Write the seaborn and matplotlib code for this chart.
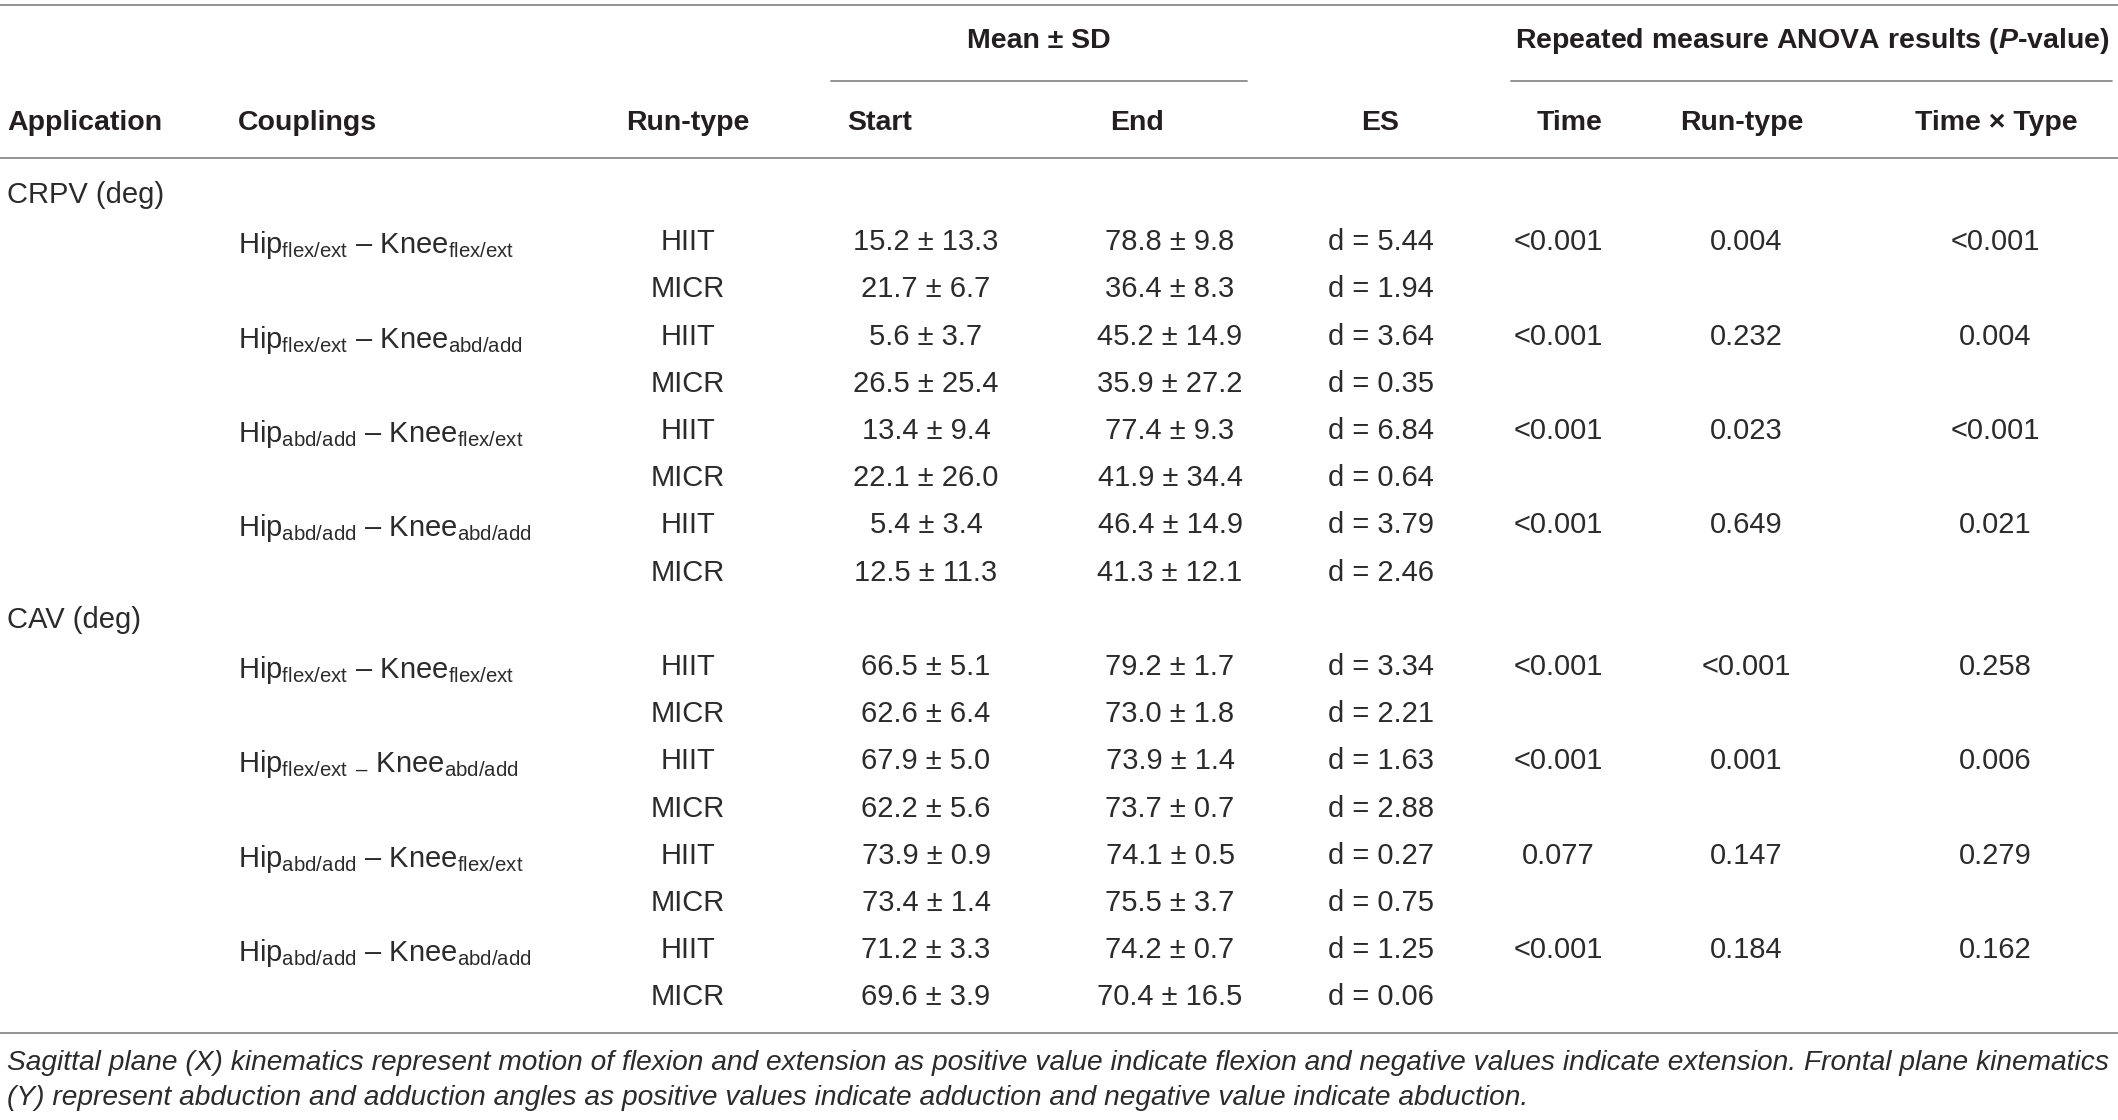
import matplotlib
matplotlib.use('Agg')
import matplotlib.pyplot as plt
import seaborn as sns

# Table content
applications = ['CRPV (deg)', 'CAV (deg)']
couplings = {
    'CRPV (deg)': [r'Hip$_\mathregular{flex/ext}$ – Knee$_\mathregular{flex/ext}$',
                   r'Hip$_\mathregular{flex/ext}$ – Knee$_\mathregular{abd/add}$',
                   r'Hip$_\mathregular{abd/add}$ – Knee$_\mathregular{flex/ext}$',
                   r'Hip$_\mathregular{abd/add}$ – Knee$_\mathregular{abd/add}$'],
    'CAV (deg)': [r'Hip$_\mathregular{flex/ext}$ – Knee$_\mathregular{flex/ext}$',
                  r'Hip$_\mathregular{flex/ext}$ $_\mathregular{–}$ Knee$_\mathregular{abd/add}$',
                  r'Hip$_\mathregular{abd/add}$ – Knee$_\mathregular{flex/ext}$',
                  r'Hip$_\mathregular{abd/add}$ – Knee$_\mathregular{abd/add}$'],
}
run_types = ['HIIT', 'MICR']

# one entry per row (HIIT, MICR for each coupling), CRPV first then CAV
start_mean = [15.2, 21.7, 5.6, 26.5, 13.4, 22.1, 5.4, 12.5,
              66.5, 62.6, 67.9, 62.2, 73.9, 73.4, 71.2, 69.6]
start_sd = [13.3, 6.7, 3.7, 25.4, 9.4, 26.0, 3.4, 11.3,
            5.1, 6.4, 5.0, 5.6, 0.9, 1.4, 3.3, 3.9]
end_mean = [78.8, 36.4, 45.2, 35.9, 77.4, 41.9, 46.4, 41.3,
            79.2, 73.0, 73.9, 73.7, 74.1, 75.5, 74.2, 70.4]
end_sd = [9.8, 8.3, 14.9, 27.2, 9.3, 34.4, 14.9, 12.1,
          1.7, 1.8, 1.4, 0.7, 0.5, 3.7, 0.7, 16.5]
effect_size = [5.44, 1.94, 3.64, 0.35, 6.84, 0.64, 3.79, 2.46,
               3.34, 2.21, 1.63, 2.88, 0.27, 0.75, 1.25, 0.06]

# p-values, one per coupling
p_time = ['<0.001', '<0.001', '<0.001', '<0.001', '<0.001', '<0.001', '0.077', '<0.001']
p_runtype = ['0.004', '0.232', '0.023', '0.649', '<0.001', '0.001', '0.147', '0.184']
p_interaction = ['<0.001', '0.004', '<0.001', '0.021', '0.258', '0.006', '0.279', '0.162']

footnote = ['Sagittal plane (X) kinematics represent motion of flexion and extension as positive value '
            'indicate flexion and negative values indicate extension. Frontal plane kinematics',
            '(Y) represent abduction and adduction angles as positive values indicate adduction and '
            'negative value indicate abduction.']

sns.set_theme(style='white')
plt.rcParams['font.family'] = ['Liberation Sans', 'DejaVu Sans']
plt.rcParams['mathtext.fontset'] = 'custom'
plt.rcParams['mathtext.rm'] = 'Liberation Sans'
plt.rcParams['mathtext.it'] = 'Liberation Sans:italic:bold'
plt.rcParams['mathtext.bf'] = 'Liberation Sans:bold'

W, H = 2118, 1120
fig = plt.figure(figsize=(W / 100, H / 100), dpi=100)
ax = fig.add_axes([0, 0, 1, 1])
ax.set_xlim(0, W)
ax.set_ylim(H, 0)
ax.axis('off')

txt = '#231f20'
body_col = '#2b2b2b'
line_col = '#8a8a8a'
body = 21
head = 20.5

# rules
for y in [5, 158, 1033]:
    ax.plot([0, W], [y, y], color=line_col, lw=1.3)
ax.plot([831, 1247], [81, 81], color=line_col, lw=1.3)
ax.plot([1511, 2112], [81, 81], color=line_col, lw=1.3)

# header
hk = dict(fontsize=head, fontweight='bold', color=txt, va='center')
ax.text(1039, 41, 'Mean ± SD', ha='center', **hk)
ax.text(1812, 41, r'Repeated measure ANOVA results ($\mathit{P}$-value)', ha='center', **hk)
ax.text(7, 123, 'Application', ha='left', **hk)
ax.text(238, 123, 'Couplings', ha='left', **hk)
ax.text(688, 123, 'Run-type', ha='center', **hk)
ax.text(847, 123, 'Start', ha='left', **hk)
ax.text(1137, 123, 'End', ha='center', **hk)
ax.text(1380, 123, 'ES', ha='center', **hk)
ax.text(1570, 123, 'Time', ha='center', **hk)
ax.text(1742, 123, 'Run-type', ha='center', **hk)
ax.text(1996, 123, 'Time × Type', ha='center', **hk)

# body
bk = dict(fontsize=body, color=body_col, va='center')
y0, dy = 195, 47.2
line = 0
row = 0
for a, app in enumerate(applications):
    ax.text(7, y0 + line * dy, app, ha='left', **bk)
    line += 1
    for c, lab in enumerate(couplings[app]):
        k = a * 4 + c
        for r, rt in enumerate(run_types):
            y = y0 + line * dy
            if r == 0:
                ax.text(238, y + 3, lab, ha='left', **bk)
                ax.text(1558, y, p_time[k], ha='center', **bk)
                ax.text(1746, y, p_runtype[k], ha='center', **bk)
                ax.text(1995, y, p_interaction[k], ha='center', **bk)
            ax.text(688, y, rt, ha='center', **bk)
            ax.text(926, y, f'{start_mean[row]:.1f} ± {start_sd[row]:.1f}', ha='center', **bk)
            ax.text(1170, y, f'{end_mean[row]:.1f} ± {end_sd[row]:.1f}', ha='center', **bk)
            ax.text(1381, y, f'd = {effect_size[row]:.2f}', ha='center', **bk)
            line += 1
            row += 1

# footnote, stretched to the table width
fn1 = ax.text(7, 1063, footnote[0], ha='left', va='center', fontsize=18, style='italic', color=body_col)
fn2 = ax.text(7, 1098, footnote[1], ha='left', va='center', fontsize=18, style='italic', color=body_col)
fig.canvas.draw()
w = fn1.get_window_extent().width
size = 18 * 2100 / w
fn1.set_fontsize(size)
fn2.set_fontsize(size)

fig.savefig('out.png', dpi=100)
